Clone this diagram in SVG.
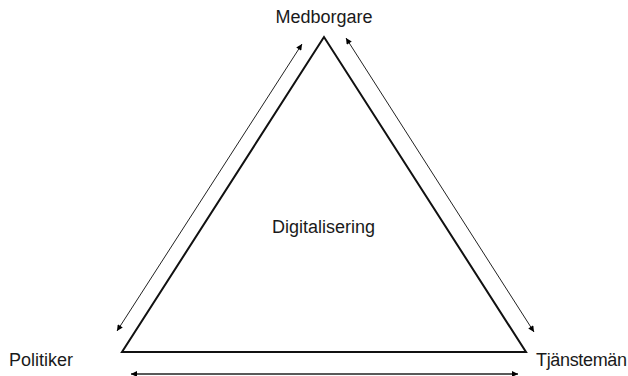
<svg xmlns="http://www.w3.org/2000/svg" width="628" height="376" viewBox="0 0 628 376">
<style>
.lbl{font-family:"Liberation Sans",Arial,sans-serif;font-size:18px;fill:#1a1a1a}
.conn{stroke:#222;stroke-width:1;fill:none;marker-start:url(#ah);marker-end:url(#ah)}
</style>
<defs>
<marker id="ah" viewBox="0 0 10 10" refX="10" refY="5" markerWidth="8" markerHeight="6" markerUnits="userSpaceOnUse" orient="auto-start-reverse">
<path d="M0,0 L10,5 L0,10 z" fill="#000"/>
</marker>
</defs>
<rect width="628" height="376" fill="#fff"/>
<g id="triangle">
<polygon points="324,37 122,352 526,352" fill="none" stroke="#111" stroke-width="2" stroke-linejoin="miter"/>
<text class="lbl" x="323.5" y="233" text-anchor="middle">Digitalisering</text>
</g>
<g id="medborgare"><text class="lbl" x="324" y="23" text-anchor="middle">Medborgare</text></g>
<g id="politiker"><text class="lbl" x="9" y="366">Politiker</text></g>
<g id="tjansteman"><text class="lbl" x="536" y="366" textLength="91">Tjänstemän</text></g>
<g id="connectors">
<line class="conn" x1="117" y1="331" x2="302" y2="44"/>
<line class="conn" x1="346" y1="38" x2="534" y2="332"/>
<line class="conn" x1="131" y1="374" x2="518" y2="374" style="stroke-width:1.5"/>
</g>
</svg>
